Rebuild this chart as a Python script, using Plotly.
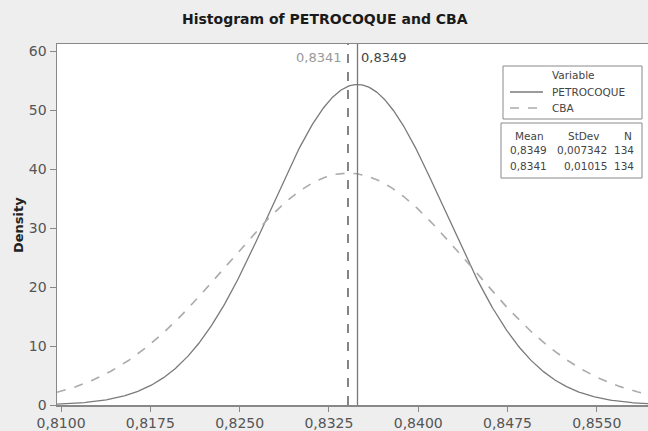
import numpy as np
import plotly.graph_objects as go

# ---- data ----
variables = ["PETROCOQUE", "CBA"]
means = [0.8349, 0.8341]
stdevs = [0.007342, 0.01015]
counts = [134, 134]
mean_labels = ["0,8349", "0,8341"]
stdev_labels = ["0,007342", "0,01015"]
x_tickvals = [0.8100, 0.8175, 0.8250, 0.8325, 0.8400, 0.8475, 0.8550]
x_ticktext = ["0,8100", "0,8175", "0,8250", "0,8325", "0,8400", "0,8475", "0,8550"]
y_tickvals = [0, 10, 20, 30, 40, 50, 60]

# ---- layout geometry (pixels) ----
W, H = 648, 431
L, R, T, B = 57, 648, 44, 405
X_RANGE = [0.80966, 0.8593]
Y_RANGE = [0, 61.2]

def px(x):
    return (x - L) / (R - L)

def py(y):
    return (B - y) / (B - T)

xs = np.linspace(X_RANGE[0], X_RANGE[1], 600)

colors = ["#7a7a7a", "#ababab"]
dashes = ["solid", "dash"]

fig = go.Figure()
for name, m, s, c, d in zip(variables, means, stdevs, colors, dashes):
    dens = np.exp(-0.5 * ((xs - m) / s) ** 2) / (s * np.sqrt(2 * np.pi))
    fig.add_trace(go.Scatter(x=xs, y=dens, mode="lines", name=name,
                             line=dict(color=c, width=1.3 if d == "solid" else 1.6, dash=d),
                             showlegend=False, hoverinfo="skip", cliponaxis=True))

shapes = []
annotations = []
# mean reference lines
shapes.append(dict(type="line", xref="x", yref="paper", x0=means[0], x1=means[0], y0=0, y1=1,
                   line=dict(color="#777777", width=1.3)))
shapes.append(dict(type="line", xref="x", yref="paper", x0=means[1], x1=means[1], y0=0, y1=1,
                   line=dict(color="#666666", width=1.6, dash="dash")))
annotations.append(dict(x=means[0], y=py(57), xref="x", yref="paper", text=mean_labels[0],
                        xanchor="left", xshift=1, yanchor="middle", showarrow=False,
                        font=dict(family="DejaVu Sans", size=13, color="#444444")))
annotations.append(dict(x=means[1], y=py(57), xref="x", yref="paper", text=mean_labels[1],
                        xanchor="right", xshift=-4, yanchor="middle", showarrow=False,
                        font=dict(family="DejaVu Sans", size=13, color="#999999")))

box_font = dict(family="DejaVu Sans", size=10.5, color="#444444")

# legend box
shapes.append(dict(type="rect", xref="paper", yref="paper", x0=px(503), x1=px(642), y0=py(66), y1=py(119),
                   line=dict(color="#8a8a8a", width=1), fillcolor="white"))
annotations.append(dict(x=px(573), y=py(75), xref="paper", yref="paper", text="Variable",
                        showarrow=False, xanchor="center", yanchor="middle", font=box_font))
for i, (name, c, d) in enumerate(zip(variables, colors, dashes)):
    yy = 92 + i * 16
    shapes.append(dict(type="line", xref="paper", yref="paper", x0=px(510), x1=px(543), y0=py(yy), y1=py(yy),
                       line=dict(color=c, width=1.3, dash=d)))
    annotations.append(dict(x=px(550), y=py(yy), xref="paper", yref="paper", text=name,
                            showarrow=False, xanchor="left", yanchor="middle", font=box_font))

# stats table box
shapes.append(dict(type="rect", xref="paper", yref="paper", x0=px(501), x1=px(642), y0=py(123), y1=py(178),
                   line=dict(color="#8a8a8a", width=1), fillcolor="white"))
annotations.append(dict(x=px(529), y=py(136), xref="paper", yref="paper", text="Mean", showarrow=False,
                        xanchor="center", yanchor="middle", font=box_font))
annotations.append(dict(x=px(584), y=py(136), xref="paper", yref="paper", text="StDev", showarrow=False,
                        xanchor="center", yanchor="middle", font=box_font))
annotations.append(dict(x=px(628), y=py(136), xref="paper", yref="paper", text="N", showarrow=False,
                        xanchor="center", yanchor="middle", font=box_font))
for i in range(len(variables)):
    yy = 150 + i * 16
    annotations.append(dict(x=px(528), y=py(yy), xref="paper", yref="paper", text=mean_labels[i], showarrow=False,
                            xanchor="center", yanchor="middle", font=box_font))
    annotations.append(dict(x=px(609), y=py(yy), xref="paper", yref="paper", text=stdev_labels[i], showarrow=False,
                            xanchor="right", yanchor="middle", font=box_font))
    annotations.append(dict(x=px(624), y=py(yy), xref="paper", yref="paper", text=str(counts[i]), showarrow=False,
                            xanchor="center", yanchor="middle", font=box_font))

# title and y-axis title
annotations.append(dict(x=px(325), y=py(19), xref="paper", yref="paper",
                        text="<b>Histogram of PETROCOQUE and CBA</b>", showarrow=False,
                        xanchor="center", yanchor="middle",
                        font=dict(family="DejaVu Sans", size=14, color="#1a1a1a")))
annotations.append(dict(x=px(18), y=py(225), xref="paper", yref="paper", text="<b>Density</b>",
                        showarrow=False, textangle=-90, xanchor="center", yanchor="middle",
                        font=dict(family="DejaVu Sans", size=13, color="#222222")))

fig.update_layout(
    width=W, height=H,
    margin=dict(l=L, r=W - R, t=T, b=H - B, autoexpand=False),
    paper_bgcolor="#eeeeee", plot_bgcolor="white",
    showlegend=False,
    shapes=shapes, annotations=annotations,
    xaxis=dict(range=X_RANGE, tickvals=x_tickvals, ticktext=x_ticktext, showgrid=False, zeroline=False,
               showline=True, linecolor="#888888", linewidth=1.5, mirror=True,
               ticks="outside", ticklen=5, tickcolor="#888888", automargin=False,
               tickfont=dict(family="DejaVu Sans", size=14, color="#555555")),
    yaxis=dict(range=Y_RANGE, tickvals=y_tickvals, showgrid=False, zeroline=False,
               showline=True, linecolor="#888888", linewidth=1.5, mirror=True,
               ticks="outside", ticklen=6, tickcolor="#888888", automargin=False,
               tickfont=dict(family="DejaVu Sans", size=14, color="#555555")),
)

fig.write_html("out.html",
               config={"displayModeBar": False, "staticPlot": True},
               post_script="document.body.style.margin='0';document.body.style.overflow='hidden';"
                           "document.body.style.background='#eeeeee';")
